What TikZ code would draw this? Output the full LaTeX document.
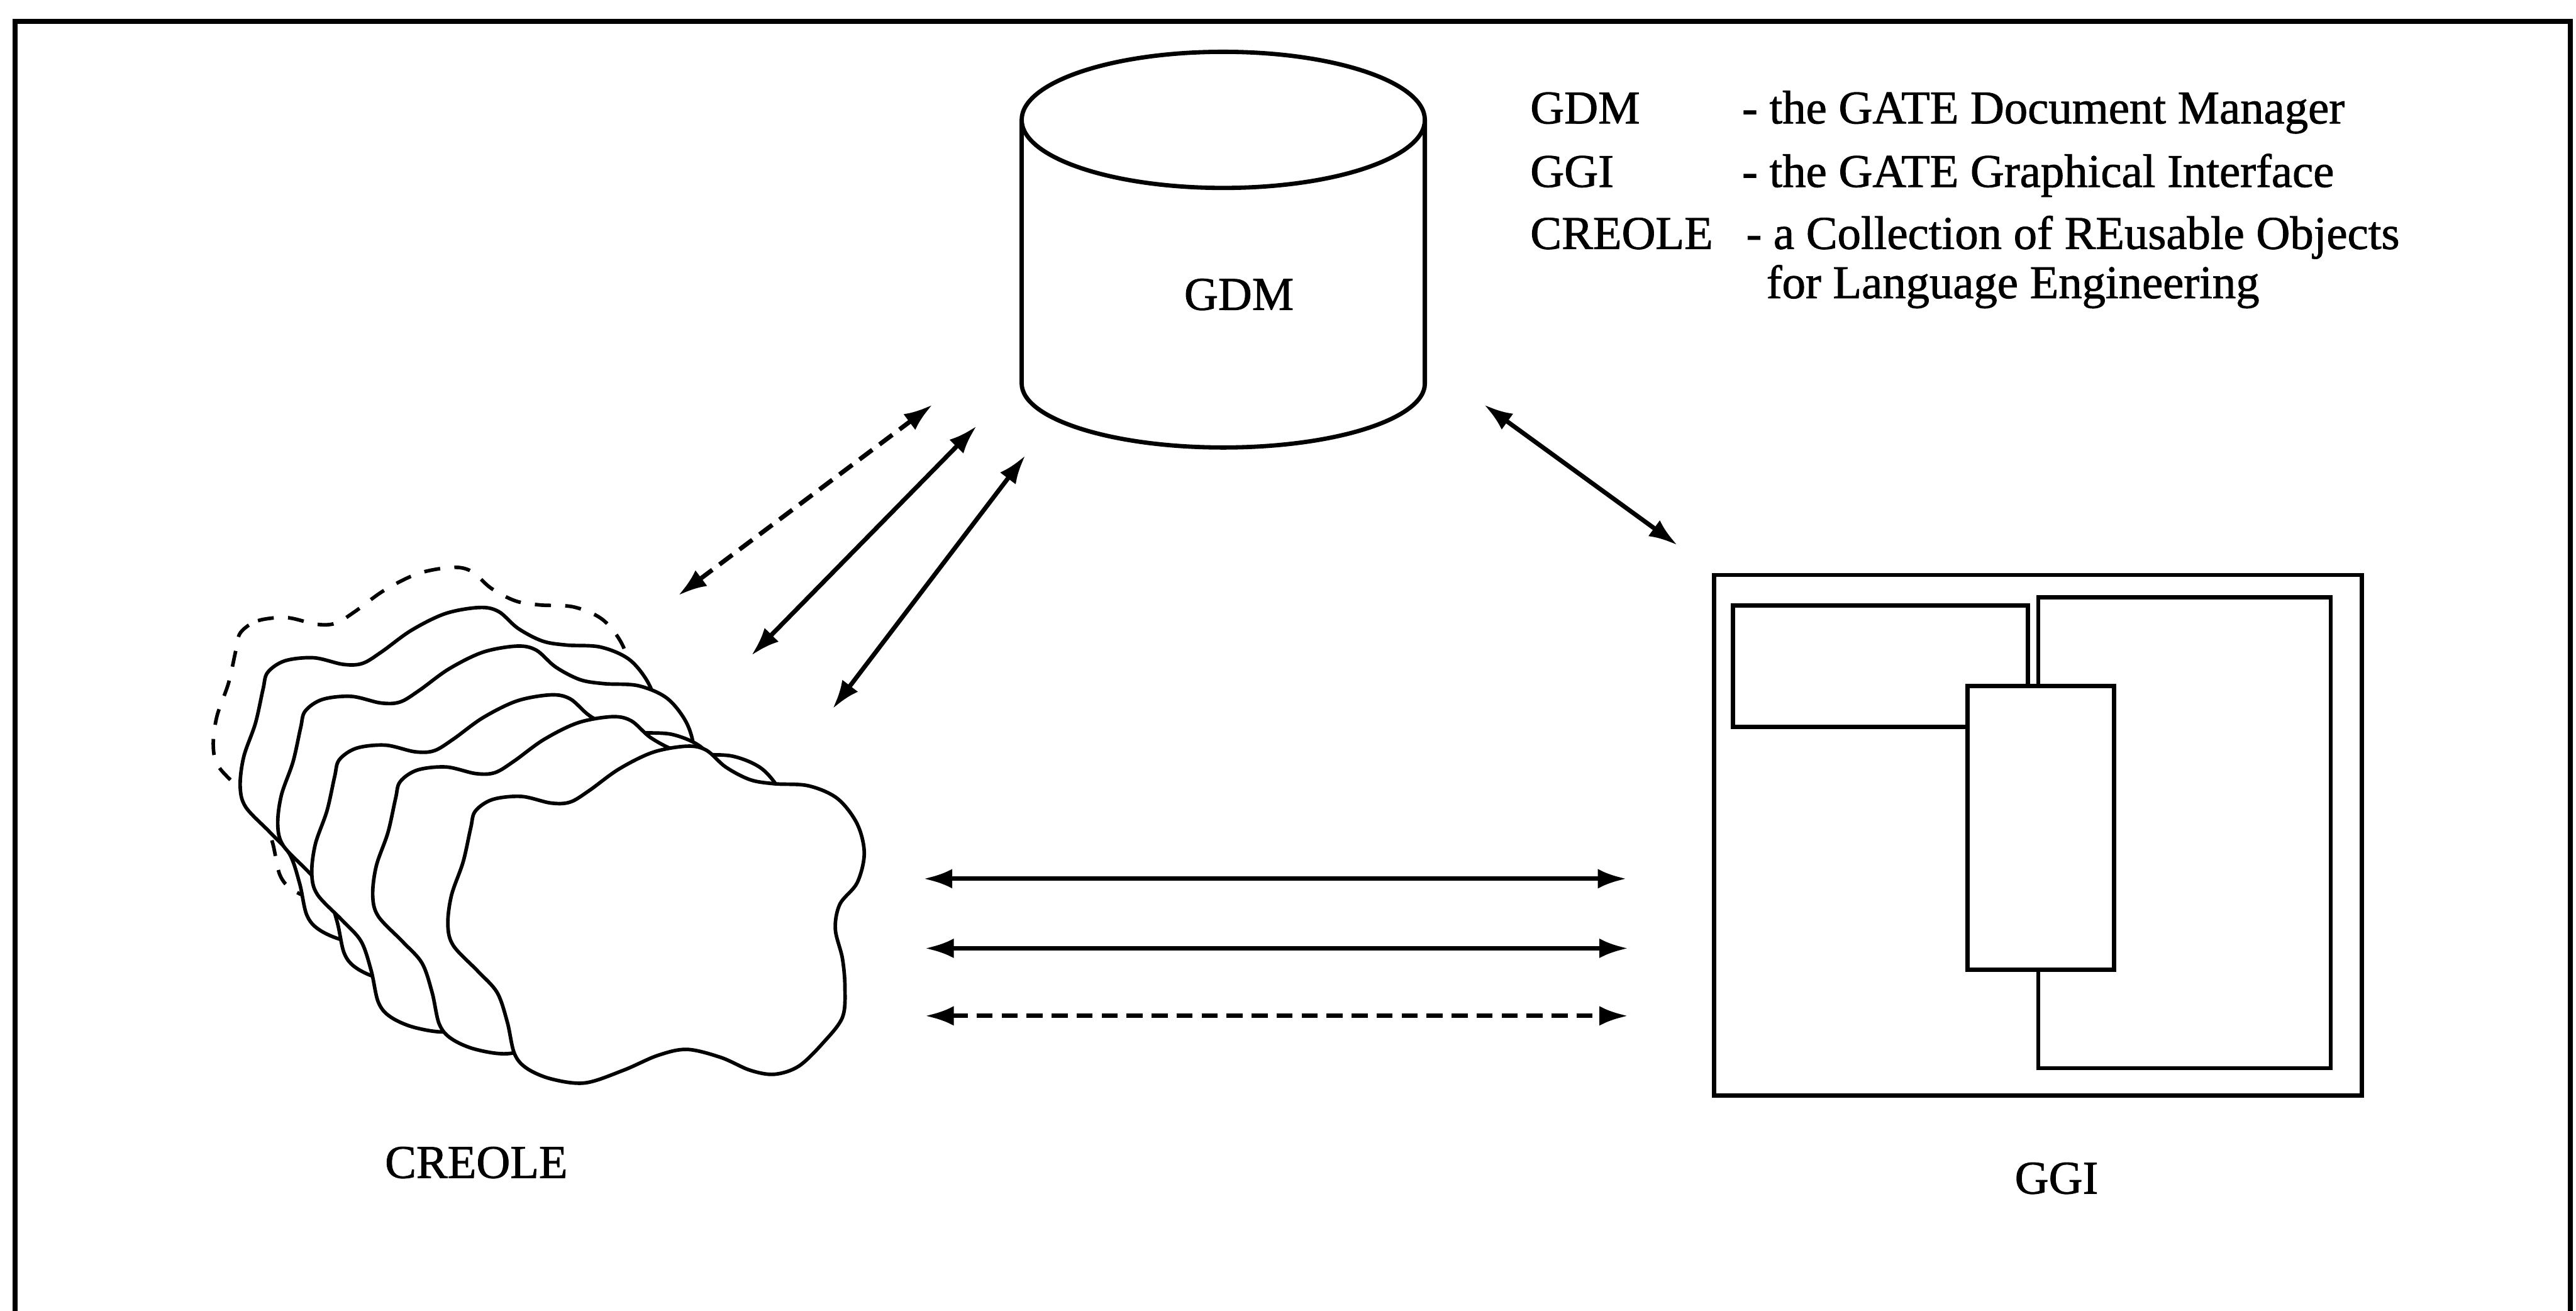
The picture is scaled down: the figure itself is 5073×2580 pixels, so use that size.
\documentclass[tikz,border=0pt]{standalone}
\usepackage{fontspec}
\setmainfont{Liberation Serif}[FakeBold=1.2]
\usetikzlibrary{arrows.meta}
\begin{document}
\begin{tikzpicture}[x=0.01cm,y=-0.01cm,
  lbl/.style={inner sep=0pt,font=\fontsize{26.3pt}{30pt}\selectfont},
  shapeline/.style={line width=2.4pt},
  frameline/.style={line width=2.85pt},
  conn/.style={line width=2.5pt,{Latex[length=16pt,width=11pt]}-{Latex[length=16pt,width=11pt]}},
  dconn/.style={conn,dash pattern=on 9pt off 5pt},
  blob/.pic={\filldraw[fill=white,line width=2pt] plot[smooth cycle,tension=0.55] coordinates {
    (936,1597) (970,1574) (1027,1568) (1085,1581) (1123,1579) (1161,1556) (1219,1514)
    (1286,1481) (1353,1469) (1391,1477) (1429,1510) (1477,1535) (1525,1543) (1592,1547)
    (1649,1572) (1688,1622) (1702,1680) (1688,1738) (1654,1780) (1645,1829) (1659,1887)
    (1664,1945) (1659,2003) (1621,2053) (1573,2099) (1525,2115) (1477,2107) (1420,2082)
    (1353,2066) (1295,2078) (1228,2107) (1152,2132) (1085,2124) (1037,2103) (1013,2074)
    (999,2012) (979,1954) (941,1912) (893,1862) (882,1821) (889,1763) (912,1697) (927,1630)};}
]
\useasboundingbox (0,0) rectangle (5073,2580);

% outer frame (open at the bottom, cut off)
\draw[frameline] (30,2620) -- (30,42) -- (5062,42) -- (5062,2620);

% GDM cylinder
\draw[shapeline] (2012,236) -- (2012,755) arc[start angle=180,end angle=0,x radius=397,y radius=126] -- (2806,236);
\draw[shapeline] (2409,236) ellipse [x radius=397,y radius=134];
\node[lbl,anchor=base] (gdm) at (2440,610) {GDM};

% CREOLE blobs (back to front)
\pic[dash pattern=on 9pt off 8pt] at (-462,-352) {blob};
\pic at (-409,-273) {blob};
\pic at (-335,-197) {blob};
\pic at (-268,-101) {blob};
\pic at (-148,-58) {blob};
\pic at (0,0) {blob};
\node[lbl,anchor=base] (creole) at (938,2319) {CREOLE};

% GGI window
\draw[shapeline] (3376,1132) rectangle (4651,2157);
\draw[shapeline] (3413,1192) rectangle (3994,1431);
\draw[shapeline] (4014,1176) rectangle (4590,2103);
\draw[shapeline,fill=white] (3875,1351) rectangle (4163,1909);
\node[lbl,anchor=base] (ggi) at (4050,2350) {GGI};

% legend
\node[lbl,anchor=base west] (k1) at (3013,243) {GDM};
\node[lbl,anchor=base west] (v1) at (3430,243) {- the GATE Document Manager};
\node[lbl,anchor=base west] (k2) at (3013,368) {GGI};
\node[lbl,anchor=base west] (v2) at (3430,368) {- the GATE Graphical Interface};
\node[lbl,anchor=base west] (k3) at (3013,490) {CREOLE};
\node[lbl,anchor=base west] (v3) at (3438,490) {- a Collection of REusable Objects};
\node[lbl,anchor=base west] (v4) at (3478,587) {for Language Engineering};

% connector end points
\coordinate (da1) at (1336,1172); \coordinate (da2) at (1836,797);
\coordinate (sa1) at (1480,1290); \coordinate (sa2) at (1923,839);
\coordinate (sb1) at (1640,1395); \coordinate (sb2) at (2019,897);
\coordinate (ga1) at (2923,797);  \coordinate (ga2) at (3303,1073);
\coordinate (h1a) at (1819,1730); \coordinate (h1b) at (3203,1730);
\coordinate (h2a) at (1822,1867); \coordinate (h2b) at (3206,1867);
\coordinate (h3a) at (1822,2000); \coordinate (h3b) at (3206,2000);

% connectors
\draw[dconn] (da1) -- (da2);
\draw[conn] (sa1) -- (sa2);
\draw[conn] (sb1) -- (sb2);
\draw[conn] (ga1) -- (ga2);
\draw[conn] (h1a) -- (h1b);
\draw[conn] (h2a) -- (h2b);
\draw[dconn] (h3a) -- (h3b);
\end{tikzpicture}
\end{document}
